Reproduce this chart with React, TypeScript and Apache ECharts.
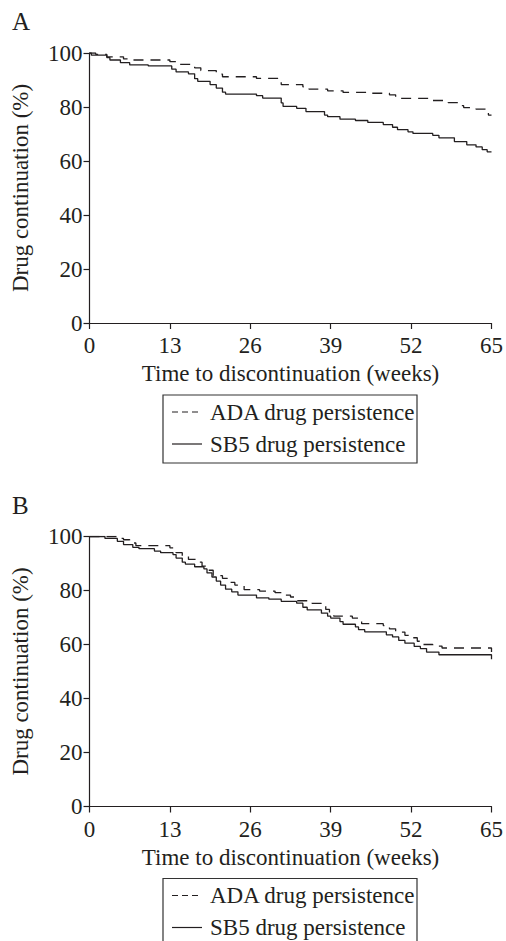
import React, { useEffect, useRef } from "react";
import * as echarts from "echarts";

// Panel A
const aSb5Weeks = [0, 0.3, 2.8, 3.3, 5, 6.5, 9.5, 13.3, 14, 16, 17, 17.5, 19.5, 20.5, 21.5, 22, 27, 28, 31, 31.3, 33.5, 35, 38, 38.5, 40.5, 43, 45, 47.5, 49, 49.8, 51.5, 52.3, 55.5, 56.5, 59, 61, 62.5, 63.5, 64.3, 65];
const aSb5Values = [100, 99.2, 98.3, 97.4, 96.4, 95.6, 95.2, 94, 93, 92.3, 90.5, 89.5, 88.3, 87, 85.5, 84.8, 84.2, 83.3, 81.5, 80.2, 79.5, 78.3, 77, 76.4, 75.5, 75, 74.3, 73.5, 72.5, 71.6, 70.8, 70.2, 69.5, 68.6, 67.2, 66, 65.2, 64.2, 63.4, 63.4];
const aAdaWeeks = [0, 1, 2.8, 5.5, 7, 13, 14, 17, 18, 20.5, 21.5, 27, 30.5, 31, 34.5, 35.5, 38.5, 41, 45, 48.5, 49.5, 50, 55.5, 58, 60, 60.5, 62.5, 64, 64.5, 65];
const aAdaValues = [100, 99.5, 98.6, 97.8, 97.4, 96.8, 95.8, 94.5, 93.5, 92.2, 91.2, 90.6, 89.5, 88.3, 87.5, 86.6, 86, 85.4, 85.1, 84.5, 83.6, 83.2, 82.4, 81.6, 80.5, 79.8, 79.2, 77.8, 77, 77];

// Panel B
const bSb5Weeks = [0, 2.5, 4.5, 5.5, 7, 8, 10.5, 11.5, 13.5, 14, 15, 15.5, 17, 18.5, 19, 19.8, 20.5, 21.2, 22, 23, 24, 27, 29, 31, 33.5, 34.5, 35.2, 37.5, 38.5, 39, 40.5, 41, 43, 43.5, 44.5, 48, 49, 50, 51, 52.5, 53.5, 54.5, 56.5, 65];
const bSb5Values = [100, 99.3, 98.2, 97, 96, 95.5, 94.6, 94, 93.3, 92, 90.5, 89.8, 88.8, 88, 86.5, 85, 83.5, 82, 80.5, 79.5, 78.3, 77.3, 76.8, 76, 75.3, 73.8, 72.8, 71.6, 70.5, 69.8, 68.5, 67.5, 66.5, 65.5, 64.7, 63.6, 62.8, 61.5, 60.5, 59.3, 58.5, 57.2, 56.2, 54.5];
const bAdaWeeks = [0, 4.5, 5.5, 6.5, 7.5, 13, 14, 15, 16, 17.5, 18.2, 19, 20, 21.5, 22.3, 23.5, 25, 27.5, 30, 31.5, 32.5, 33.5, 36, 37.5, 38.2, 38.8, 39.5, 42.5, 43.5, 44, 47.5, 48.5, 49.5, 51, 52, 53, 54, 55.5, 57, 65];
const bAdaValues = [100, 99.3, 98.8, 97.6, 96.6, 95.8, 94, 92.6, 91.5, 90.5, 89, 87.5, 85.5, 84.5, 83, 82, 80.3, 79.8, 79.2, 78.3, 77.6, 76.2, 75.2, 74.2, 73, 71.5, 70.5, 69.8, 68.8, 67.7, 67, 65.8, 64.6, 63.4, 62.5, 61.2, 60, 59.4, 58.7, 57.2];

const panelLabels = ["A", "B"];
const seriesNames = ["ADA drug persistence", "SB5 drug persistence"];
const xAxisTitle = "Time to discontinuation (weeks)";
const yAxisTitle = "Drug continuation (%)";

const FONT = '"Liberation Serif", "Times New Roman", serif';
const INK = "#231f20";
const FS = 23;

function pairs(xs: number[], ys: number[]) {
  return xs.map((x, i) => [x, ys[i]]);
}

export default function App() {
  const ref = useRef<HTMLDivElement>(null);
  useEffect(() => {
    document.body.style.margin = "0";
    const chart = echarts.init(ref.current!, null, { renderer: "svg" });
    const gridTops = [53, 536.5];
    const gridH = 270;
    const xAxes = gridTops.map((_, i) => ({
      type: "value",
      gridIndex: i,
      min: 0,
      max: 65,
      interval: 13,
      splitLine: { show: false },
      axisLine: { lineStyle: { color: INK, width: 1.2 } },
      axisTick: { length: 6, lineStyle: { color: INK, width: 1.2 } },
      axisLabel: { color: INK, fontFamily: FONT, fontSize: FS, margin: 11 },
      name: xAxisTitle,
      nameLocation: "middle",
      nameGap: 39,
      nameTextStyle: { color: INK, fontFamily: FONT, fontSize: FS },
    }));
    const yAxes = gridTops.map((_, i) => ({
      type: "value",
      gridIndex: i,
      min: 0,
      max: 100,
      interval: 20,
      splitLine: { show: false },
      axisLine: { show: true, lineStyle: { color: INK, width: 1.2 } },
      axisTick: { show: true, length: 6, lineStyle: { color: INK, width: 1.2 } },
      axisLabel: { color: INK, fontFamily: FONT, fontSize: FS, margin: 7 },
      name: yAxisTitle,
      nameLocation: "middle",
      nameGap: 58,
      nameTextStyle: { color: INK, fontFamily: FONT, fontSize: FS },
    }));
    const mk = (name: string, data: number[][], idx: number, dashed: boolean) => ({
      type: "line",
      name,
      xAxisIndex: idx,
      yAxisIndex: idx,
      step: "end",
      showSymbol: false,
      symbol: "none",
      data,
      lineStyle: { color: INK, width: 1.3, type: dashed ? [10, 7] : "solid" },
    });
    const graphic: any[] = [];
    gridTops.forEach((top, i) => {
      const off = i * 483.5;
      graphic.push({
        type: "text",
        left: 12,
        top: 9 + off,
        style: { text: panelLabels[i], font: `25px ${FONT}`, fill: INK },
      });
      graphic.push({
        type: "rect",
        shape: { x: 163, y: 395 + off, width: 254, height: 68 },
        style: { fill: "none", stroke: "#333", lineWidth: 1.2 },
      });
      graphic.push({
        type: "line",
        shape: { x1: 172, y1: 412 + off, x2: 202, y2: 412 + off },
        style: { stroke: INK, lineWidth: 1.2, lineDash: [6, 4] },
      });
      graphic.push({
        type: "line",
        shape: { x1: 172, y1: 444 + off, x2: 202, y2: 444 + off },
        style: { stroke: INK, lineWidth: 1.2 },
      });
      graphic.push({
        type: "text",
        x: 210,
        y: 412 + off,
        style: { text: seriesNames[0], font: `${FS}px ${FONT}`, fill: INK, verticalAlign: "middle" },
      });
      graphic.push({
        type: "text",
        x: 210,
        y: 444 + off,
        style: { text: seriesNames[1], font: `${FS}px ${FONT}`, fill: INK, verticalAlign: "middle" },
      });
    });
    chart.setOption({
      animation: false,
      backgroundColor: "#ffffff",
      grid: gridTops.map((t) => ({ left: 89.5, top: t, width: 403.5, height: gridH })),
      xAxis: xAxes,
      yAxis: yAxes,
      series: [
        mk(seriesNames[0], pairs(aAdaWeeks, aAdaValues), 0, true),
        mk(seriesNames[1], pairs(aSb5Weeks, aSb5Values), 0, false),
        mk(seriesNames[0], pairs(bAdaWeeks, bAdaValues), 1, true),
        mk(seriesNames[1], pairs(bSb5Weeks, bSb5Values), 1, false),
      ],
      graphic,
    });
    return () => chart.dispose();
  }, []);
  return <div ref={ref} style={{ width: 506, height: 941 }} />;
}
